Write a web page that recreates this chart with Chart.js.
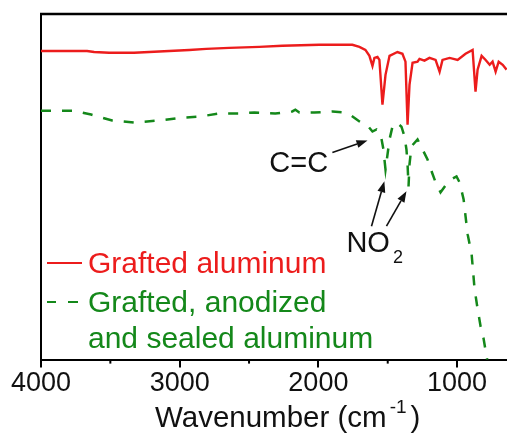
<!DOCTYPE html>
<html>
<head>
<meta charset="utf-8">
<script src="https://cdn.jsdelivr.net/npm/chart.js@4"></script>
<style>
  html, body { margin: 0; padding: 0; background: #fff; }
  #wrap { width: 507px; height: 434px; position: relative; }
</style>
</head>
<body>
<div id="wrap"><canvas id="ftir"></canvas></div>
<script>
// wavenumber (cm-1) and transmittance (a.u.)
let redWn = [4000, 3668, 3617, 3509, 3329, 3220, 3076, 2931, 2809, 2643, 2426, 2260, 1993, 1755, 1704, 1661,
    1632, 1610, 1596, 1574, 1560, 1538, 1516, 1487, 1430, 1394, 1372, 1357, 1343, 1321, 1285, 1271, 1235,
    1199, 1155, 1126, 1105, 1054, 996, 939, 888, 867, 852, 823, 794, 765, 744, 722, 700, 671, 643];
let redT = [89.3, 89.3, 89.0, 88.8, 88.8, 89.0, 89.3, 89.6, 89.9, 90.2, 90.5, 90.8, 91.1, 91.1, 90.5, 89.6,
    87.9, 85.0, 87.3, 87.6, 86.7, 73.8, 82.4, 87.9, 89.0, 88.5, 86.2, 68.0, 79.5, 85.9, 86.2, 87.0, 86.5,
    87.3, 86.7, 83.3, 86.7, 87.3, 86.7, 88.5, 89.6, 77.5, 83.9, 87.9, 86.7, 85.3, 86.2, 83.3, 86.2, 85.3, 83.9];

let greenWn = [4000, 3762, 3639, 3487, 3329, 3148, 2982, 2859, 2715, 2570, 2462, 2311, 2188, 2166, 2137, 2029,
    1899, 1812, 1762, 1704, 1646, 1610, 1581, 1552, 1531, 1516, 1487, 1466, 1437, 1401, 1379, 1365, 1357,
    1350, 1343, 1329, 1285, 1256, 1213, 1184, 1155, 1119, 1083, 1040, 1004, 982, 953, 924, 895, 874, 852,
    830, 809, 787, 765];
let greenT = [72.0, 72.0, 70.9, 69.2, 68.6, 69.2, 70.0, 70.3, 71.2, 71.2, 71.5, 71.2, 71.8, 72.3, 71.5, 71.5,
    71.8, 71.5, 70.6, 68.9, 67.7, 66.0, 66.6, 65.4, 60.8, 55.0, 63.7, 67.4, 68.6, 67.4, 64.6, 60.8, 56.5,
    50.1, 56.5, 61.7, 63.7, 61.4, 57.9, 54.5, 51.3, 48.4, 50.4, 52.2, 53.0, 51.3, 46.4, 36.3, 30.5, 20.5, 14.7,
    9.5, 6.1, 0.9, -4.0];

let majorTicks = [4000, 3000, 2000, 1000];
let minorTicks = [3500, 2500, 1500];

let seriesNames = ["Grafted aluminum", "Grafted, anodized", "and sealed aluminum"];

const RED = "#ec1c1c";
const GREEN = "#14881a";
const FONT = "'Liberation Sans', Arial, sans-serif";

// annotation anchors in data units (wavenumber, transmittance)
const notes = {
    cc: { text: [2354, 54.2], arrow: [[1899, 59.9], [1646, 63.4]] },
    no2: { text: [1798, 31.1], arrows: [[[1617, 38.6], [1524, 51.6]], [[1509, 38.6], [1365, 48.7]]] }
};

function toPts(xs, ys) {
    return xs.map((x, i) => ({ x: x, y: ys[i] }));
}

function arrow(ctx, x0, y0, x1, y1) {
    const a = Math.atan2(y1 - y0, x1 - x0);
    const len = 11, half = 4;
    const bx = x1 - len * Math.cos(a), by = y1 - len * Math.sin(a);
    ctx.beginPath();
    ctx.moveTo(x0, y0);
    ctx.lineTo(bx, by);
    ctx.stroke();
    ctx.beginPath();
    ctx.moveTo(x1, y1);
    ctx.lineTo(bx + half * Math.sin(a), by - half * Math.cos(a));
    ctx.lineTo(bx - half * Math.sin(a), by + half * Math.cos(a));
    ctx.closePath();
    ctx.fill();
}

const extras = {
    id: "extras",
    afterDatasetsDraw(chart) {
        const { ctx, chartArea } = chart;
        const xs = chart.scales.x, ys = chart.scales.y;
        const px = p => [xs.getPixelForValue(p[0]), ys.getPixelForValue(p[1])];

        ctx.save();
        // top frame line
        ctx.strokeStyle = "#000";
        ctx.lineWidth = 2.5;
        ctx.beginPath();
        ctx.moveTo(chartArea.left - 1, chartArea.top);
        ctx.lineTo(chartArea.right, chartArea.top);
        ctx.stroke();

        // minor ticks
        ctx.lineWidth = 2;
        minorTicks.forEach(v => {
            const x = xs.getPixelForValue(v);
            ctx.beginPath();
            ctx.moveTo(x, chartArea.bottom);
            ctx.lineTo(x, chartArea.bottom + 4);
            ctx.stroke();
        });

        // annotations
        ctx.fillStyle = "#111";
        ctx.strokeStyle = "#111";
        ctx.lineWidth = 1.6;
        ctx.font = "29px " + FONT;
        ctx.textBaseline = "alphabetic";
        let t = px(notes.cc.text);
        ctx.fillText("C=C", t[0], t[1]);
        let a0 = px(notes.cc.arrow[0]), a1 = px(notes.cc.arrow[1]);
        arrow(ctx, a0[0], a0[1], a1[0], a1[1]);

        t = px(notes.no2.text);
        ctx.fillText("NO", t[0], t[1]);
        const w = ctx.measureText("NO").width;
        ctx.font = "18px " + FONT;
        ctx.fillText("2", t[0] + w + 3, t[1] + 11);
        notes.no2.arrows.forEach(ar => {
            const p0 = px(ar[0]), p1 = px(ar[1]);
            arrow(ctx, p0[0], p0[1], p1[0], p1[1]);
        });

        // legend
        ctx.font = "30px " + FONT;
        ctx.strokeStyle = RED;
        ctx.lineWidth = 2;
        ctx.beginPath();
        ctx.moveTo(47, 263);
        ctx.lineTo(82, 263);
        ctx.stroke();
        ctx.fillStyle = RED;
        ctx.fillText(seriesNames[0], 88, 273);

        ctx.strokeStyle = GREEN;
        ctx.lineWidth = 2.2;
        ctx.beginPath();
        ctx.moveTo(47, 302); ctx.lineTo(56, 302);
        ctx.moveTo(68, 302); ctx.lineTo(78, 302);
        ctx.stroke();
        ctx.fillStyle = GREEN;
        ctx.fillText(seriesNames[1], 88, 312);
        ctx.fillText(seriesNames[2], 88, 348);
        ctx.restore();
    },
    afterDraw(chart) {
        const { ctx } = chart;
        ctx.save();
        ctx.fillStyle = "#111";
        ctx.textBaseline = "alphabetic";
        ctx.font = "29.5px " + FONT;
        let x = 155, y = 427;
        ctx.fillText("Wavenumber (cm", x, y);
        x += ctx.measureText("Wavenumber (cm").width + 3;
        ctx.font = "19px " + FONT;
        ctx.fillText("-1", x, y - 14);
        x += ctx.measureText("-1").width + 4;
        ctx.font = "29.5px " + FONT;
        ctx.fillText(")", x, y);
        ctx.restore();
    }
};

new Chart(document.getElementById("ftir"), {
    type: "line",
    data: {
        datasets: [{
            label: seriesNames[0],
            data: toPts(redWn, redT),
            borderColor: RED,
            borderWidth: 2.4,
            pointRadius: 0,
            tension: 0
        }, {
            label: seriesNames[1] + " " + seriesNames[2],
            data: toPts(greenWn, greenT),
            borderColor: GREEN,
            borderWidth: 2.5,
            borderDash: [10, 11],
            pointRadius: 0,
            tension: 0
        }]
    },
    options: {
        responsive: true,
        maintainAspectRatio: false,
        animation: false,
        layout: { padding: { left: 41, top: 14, right: 0, bottom: 34 } },
        plugins: { legend: { display: false }, tooltip: { enabled: false } },
        scales: {
            x: {
                type: "linear",
                reverse: true,
                min: 640,
                max: 4000,
                afterBuildTicks: scale => {
                    scale.ticks = majorTicks.map(v => ({ value: v }));
                },
                ticks: {
                    autoSkip: false,
                    maxRotation: 0,
                    padding: 0,
                    color: "#111",
                    font: { family: FONT, size: 27 },
                    callback: v => String(v)
                },
                grid: {
                    drawOnChartArea: false,
                    drawTicks: true,
                    tickLength: 8,
                    lineWidth: 2,
                    color: "#000"
                },
                border: { display: true, color: "#000", width: 2 }
            },
            y: {
                min: 0,
                max: 100,
                ticks: { display: false },
                grid: { display: false, drawTicks: false },
                border: { display: true, color: "#000", width: 2 }
            }
        }
    },
    plugins: [extras]
});
</script>
</body>
</html>
